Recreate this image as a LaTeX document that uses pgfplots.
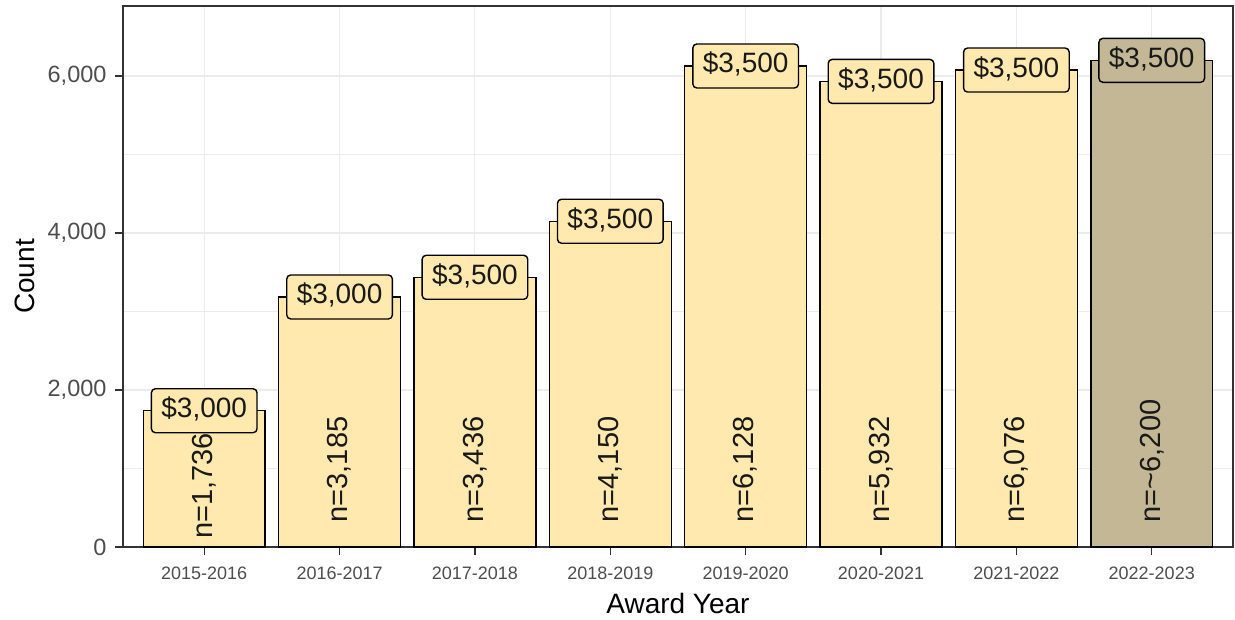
\documentclass[border=0pt]{standalone}
\usepackage{fontspec}
\setmainfont{Liberation Sans}
\usepackage{pgfplots}
\pgfplotsset{compat=1.18}
\usepackage{pgfplotstable}
\definecolor{barA}{HTML}{FFE9AF}
\definecolor{barB}{HTML}{C3B795}
\definecolor{tickgray}{HTML}{4D4D4D}
\definecolor{gridgray}{HTML}{EBEBEB}
\definecolor{framegray}{HTML}{333333}

\pgfplotstableread{
x y price n ny
1 1736 3,000 1,736 90
2 3185 3,000 3,185 300
3 3436 3,500 3,436 300
4 4150 3,500 4,150 300
5 6128 3,500 6,128 300
6 5932 3,500 5,932 300
7 6076 3,500 6,076 300
}\mainbars
\pgfplotstableread{
x y price n ny
8 6200 3,500 6,200 300
}\lastbar

\tikzset{
  pricelabel/.style={draw=black, line width=1.4pt, rounded corners=4pt,
    font=\fontsize{28}{28}\selectfont, text=black!90,
    inner xsep=10pt, inner ysep=9pt, text height=20pt, text depth=6pt, anchor=center},
  nlabel/.style={rotate=90, anchor=west, font=\fontsize{29}{29}\selectfont,
    text=black!90, inner xsep=1pt, inner ysep=0pt},
}

\begin{document}
\begin{tikzpicture}
\useasboundingbox (0,0) rectangle (1235pt,619pt);
\begin{axis}[
  at={(123pt,72pt)}, anchor=south west,
  width=1110pt, height=541pt, scale only axis,
  xmin=0.4, xmax=8.6, ymin=0, ymax=6892,
  xtick={1,2,3,4,5,6,7,8},
  xticklabels={2015-2016,2016-2017,2017-2018,2018-2019,2019-2020,2020-2021,2021-2022,2022-2023},
  ytick={0,2000,4000,6000},
  minor ytick={1000,3000,5000},
  grid=both,
  major grid style={gridgray, line width=1.1pt},
  minor grid style={gridgray, line width=0.6pt},
  axis line style={framegray, line width=1.3pt},
  tick style={framegray, line width=1.3pt},
  major tick length=8pt, minor tick length=0pt, tick align=outside,
  tick pos=left,
  /pgf/number format/assume math mode=true,
  yticklabel style={font=\fontsize{23.5}{23.5}\selectfont, text=tickgray, /pgf/number format/1000 sep={,}, xshift=-5pt},
  xticklabel style={font=\fontsize{18}{18}\selectfont, text=tickgray, yshift=-8pt},
  xlabel={Award Year}, ylabel={Count},
  xlabel style={font=\fontsize{28}{28}\selectfont, at={(axis description cs:0.5,0)}, anchor=center, yshift=-56pt},
  ylabel style={font=\fontsize{28}{28}\selectfont, at={(axis description cs:0,0.5)}, anchor=center, yshift=98pt},
]
\addplot[ybar, bar width=0.9, bar shift=0pt, fill=barA, draw=black, line width=1.4pt] table[x=x,y=y]{\mainbars};
\addplot[ybar, bar width=0.9, bar shift=0pt, fill=barB, draw=black, line width=1.4pt] table[x=x,y=y]{\lastbar};
% n labels
\addplot[draw=none, mark=none, point meta=explicit symbolic,
  nodes near coords={n=\pgfplotspointmeta},
  every node near coord/.append style={nlabel}] table[x=x, y=ny, meta=n]{\mainbars};
\addplot[draw=none, mark=none, point meta=explicit symbolic,
  nodes near coords={n=\textasciitilde\pgfplotspointmeta},
  every node near coord/.append style={nlabel}] table[x=x, y=ny, meta=n]{\lastbar};
% price labels
\addplot[draw=none, mark=none, point meta=explicit symbolic,
  nodes near coords={\$\pgfplotspointmeta},
  every node near coord/.append style={pricelabel, fill=barA}] table[x=x, y=y, meta=price]{\mainbars};
\addplot[draw=none, mark=none, point meta=explicit symbolic,
  nodes near coords={\$\pgfplotspointmeta},
  every node near coord/.append style={pricelabel, fill=barB}] table[x=x, y=y, meta=price]{\lastbar};
\end{axis}
\end{tikzpicture}
\end{document}
